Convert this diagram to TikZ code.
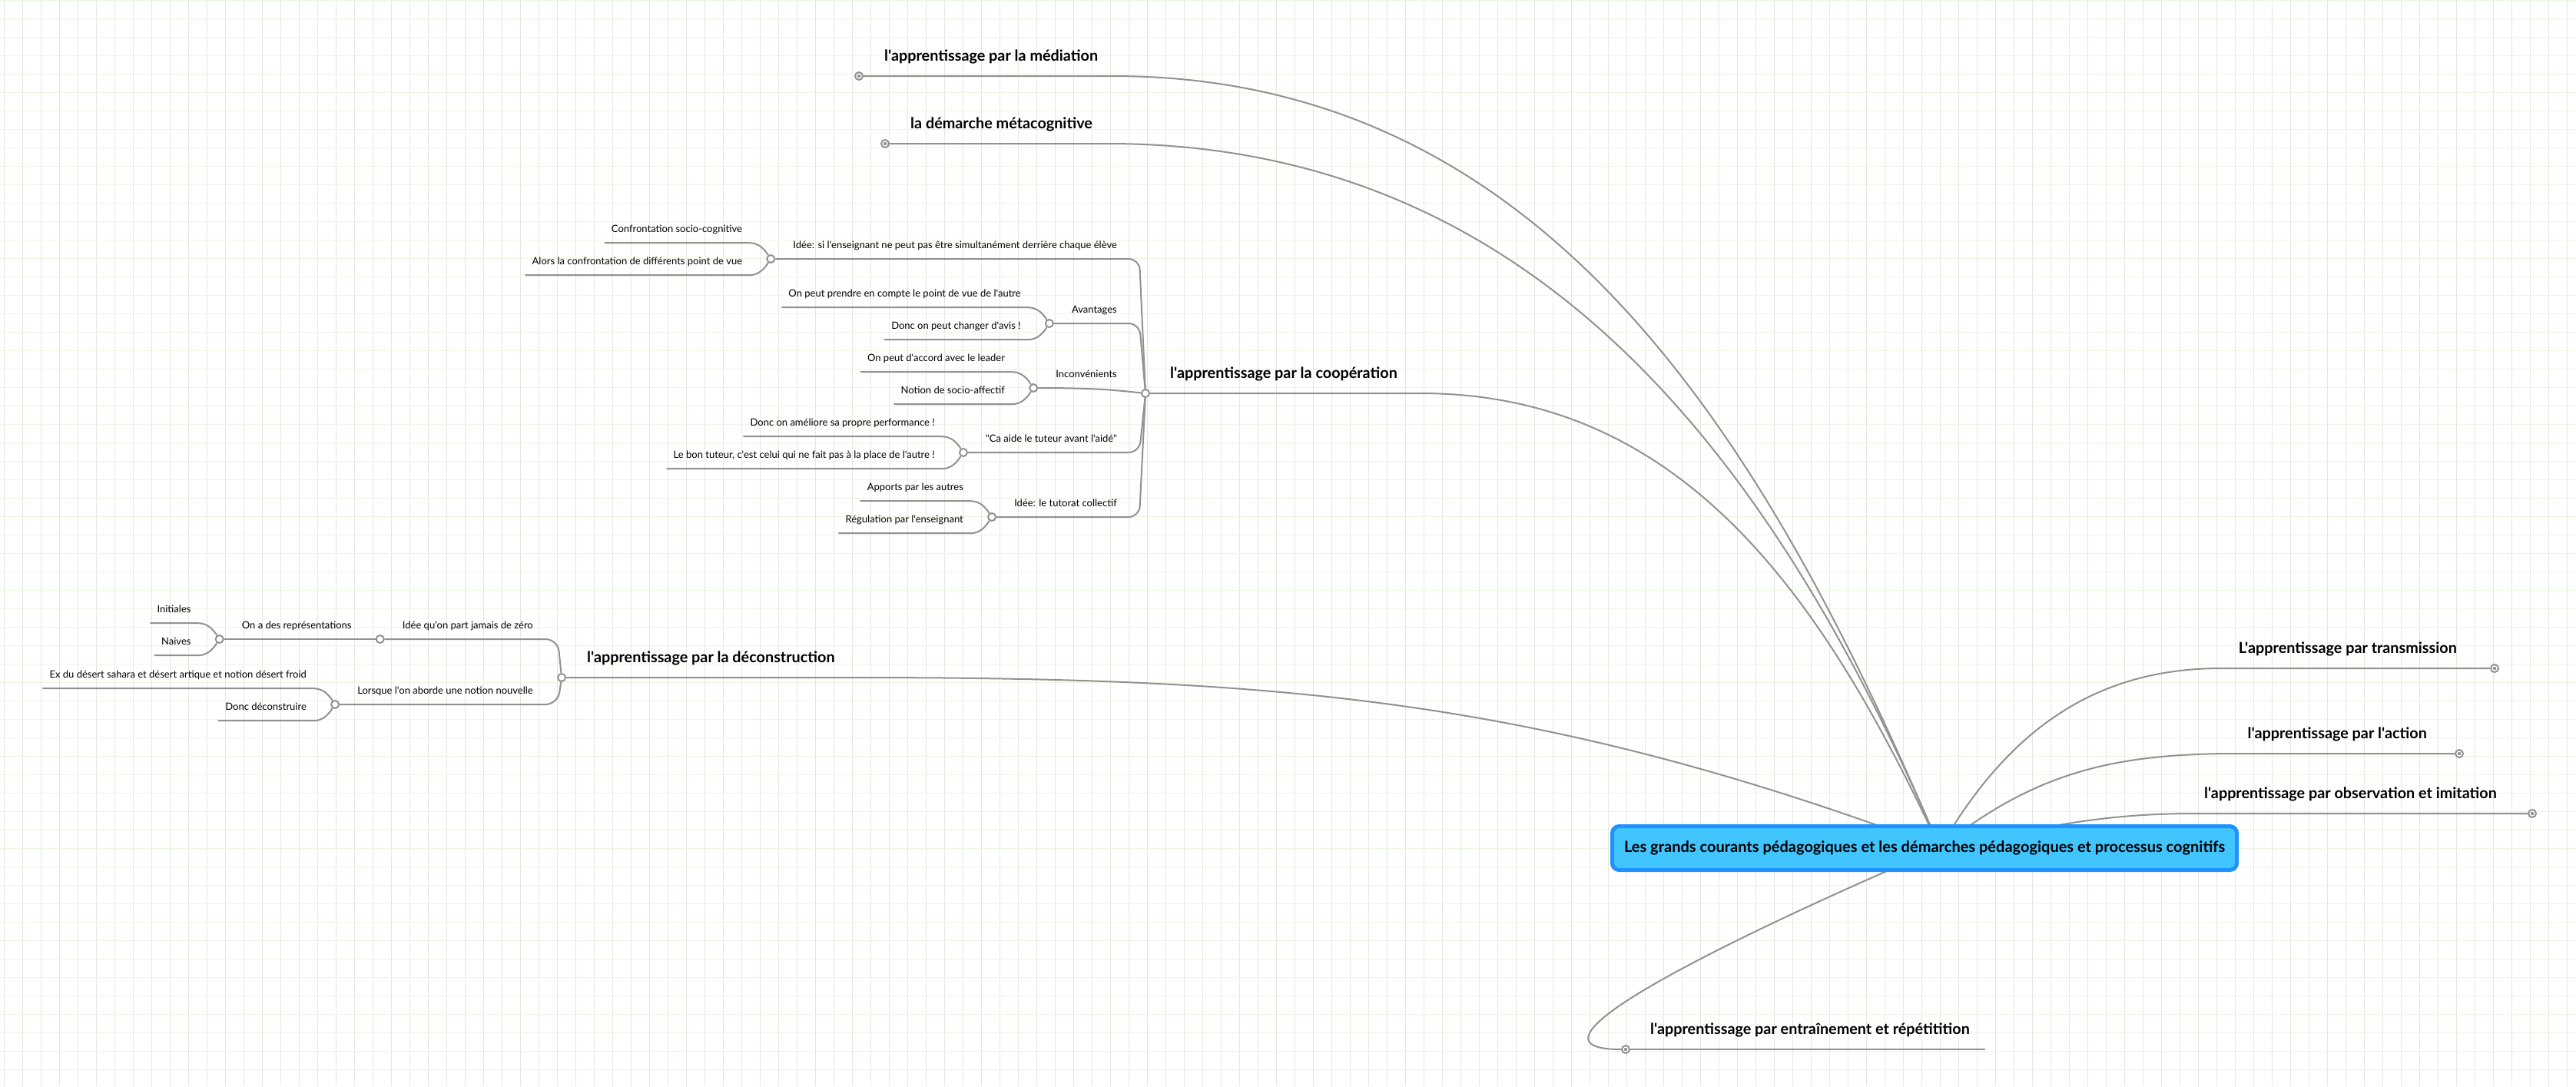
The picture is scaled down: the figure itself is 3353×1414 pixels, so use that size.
\documentclass[tikz,border=0pt]{standalone}
\usepackage{fontspec}
\newfontfamily\mapfont{Lato}
\usetikzlibrary{calc}
\definecolor{gridv}{RGB}{228,233,220}
\definecolor{gridh}{RGB}{236,245,226}
\definecolor{branch}{RGB}{145,145,145}
\definecolor{rootedge}{RGB}{33,145,255}
\definecolor{rootfill}{RGB}{64,197,255}
\pgfdeclarelayer{grid}
\pgfdeclarelayer{links}
\pgfsetlayers{grid,links,main}
\tikzset{
  link/.style={draw=branch,line width=2pt},
  knot/.style={circle,draw=branch,line width=2pt,fill=white,minimum size=10pt,inner sep=0pt},
  endknot/.style={knot,path picture={\fill[branch] (path picture bounding box.center) circle (2.2pt);}},
  topic/.style={font=\mapfont\bfseries\fontsize{19.8}{22}\selectfont,inner sep=0pt},
  subtopic/.style={font=\mapfont\fontsize{13}{15}\selectfont,inner sep=0pt,anchor=base east},
  leaf/.style={subtopic,inner xsep=9pt,text depth=14pt},
  leafup/.style={to path={.. controls ($(\tikztostart)+(13,0)$) and ($(\tikztotarget)+(-8,-12)$) .. (\tikztotarget)}},
  leafdown/.style={to path={.. controls ($(\tikztostart)+(13,0)$) and ($(\tikztotarget)+(-8,12)$) .. (\tikztotarget)}},
}
\begin{document}
\begin{tikzpicture}[x=1pt,y=-1pt]
  \useasboundingbox (0,0) rectangle (3353,1414);
  % Grid paper
  \begin{pgfonlayer}{grid}
    \fill[white] (0,0) rectangle (3353,1414);
    \foreach \gx in {5,29,...,3353} \draw[gridv,line width=1pt] (\gx,0) -- (\gx,1414);
    \foreach \gy in {0.5,24.5,...,1414} \draw[gridh,line width=1pt] (0,\gy) -- (3353,\gy);
  \end{pgfonlayer}
  % Central topic
  \node[draw=rootedge,fill=rootfill,line width=5pt,rounded corners=9pt,
        minimum width=813pt,minimum height=57pt,
        font=\mapfont\bfseries\fontsize{20}{22}\selectfont] (root) at (2505,1104)
        {Les grands courants pédagogiques et les démarches pédagogiques et processus cognitifs};
  \coordinate (hub) at ([xshift=20pt]root.center);
  % Main topics, left side
  \node[endknot] (med) at (1118,99) {};
  \node[topic,anchor=base west] (medl) at (1151,79) {l'apprentissage par la médiation};
  \node[endknot] (meta) at (1152,187) {};
  \node[topic,anchor=base west] (metal) at (1185,167) {la démarche métacognitive};
  \node[knot] (coop) at (1491,512) {};
  \node[topic,anchor=base west] (coopl) at (1523,492) {l'apprentissage par la coopération};
  \node[knot] (decon) at (731,882) {};
  \node[topic,anchor=base west] (deconl) at (764,862) {l'apprentissage par la déconstruction};
  \node[endknot] (entr) at (2116,1366) {};
  \node[topic,anchor=base west] (entrl) at (2148,1346) {l'apprentissage par entraînement et répétitition};
  % Main topics, right side
  \node[endknot] (trans) at (3247,870) {};
  \node[topic,anchor=base east] (transl) at (3198,850) {L'apprentissage par transmission};
  \node[endknot] (act) at (3201,981) {};
  \node[topic,anchor=base east] (actl) at (3159,961) {l'apprentissage par l'action};
  \node[endknot] (obs) at (3296,1059) {};
  \node[topic,anchor=base east] (obsl) at (3250,1039) {l'apprentissage par observation et imitation};
  % Where the branches turn flat
  \coordinate (medk) at ($(medl.east |- med)+(19,0)$);
  \coordinate (metak) at ($(metal.east |- meta)+(20,0)$);
  \coordinate (coopk) at ($(coopl.east |- coop)+(30,0)$);
  \coordinate (deconk) at ($(deconl.east |- decon)+(20,0)$);
  \coordinate (entrk) at ($(entrl.east |- entr)+(20,0)$);
  \coordinate (transk) at ($(transl.west |- trans)+(-23,0)$);
  \coordinate (actk) at ($(actl.west |- act)+(-15,0)$);
  \coordinate (obsk) at ($(obsl.west |- obs)+(-11,0)$);
  % Branches from the central topic
  \begin{pgfonlayer}{links}
    \draw[link] (hub) .. controls ($(hub)+(-223,-525)$) and ($(medk)+(570,0)$) .. (medk) -- (med);
    \draw[link] (hub) .. controls ($(hub)+(-217,-511)$) and ($(metak)+(555,0)$) .. (metak) -- (meta);
    \draw[link] (hub) .. controls ($(hub)+(-150,-322)$) and ($(coopk)+(345,0)$) .. (coopk) -- (coop);
    \draw[link] (hub) .. controls ($(hub)+(-521,-195)$) and ($(deconk)+(562,0)$) .. (deconk) -- (decon);
    \draw[link] (hub) .. controls ($(hub)+(-169,72)$) and ($(entr)+(-184,0)$) .. (entr);
    \draw[link] (entr) -- (entrk);
    \draw[link] (hub) .. controls ($(hub)+(85,-147)$) and ($(transk)+(-170,0)$) .. (transk) -- (trans);
    \draw[link] (hub) .. controls ($(hub)+(123,-99)$) and ($(actk)+(-158,0)$) .. (actk) -- (act);
    \draw[link] (hub) .. controls ($(hub)+(130,-25)$) and ($(obsk)+(-132,0)$) .. (obsk) -- (obs);
  \end{pgfonlayer}
  % Cooperation
  \coordinate (cooptrunk) at ([xshift=-8pt]coop.center);
  \node[subtopic] (idee) at ($(coop)+(-37,-189)$) {Idée: si l'enseignant ne peut pas être simultanément derrière chaque élève};
  \node[knot] (ideek) at ($(idee.base west)+(-29,14)$) {};
  \node[subtopic] (avant) at ($(coop)+(-37,-105)$) {Avantages};
  \node[knot] (avantk) at ($(avant.base west)+(-29,14)$) {};
  \node[subtopic] (incon) at ($(coop)+(-37,-21)$) {Inconvénients};
  \node[knot] (inconk) at ($(incon.base west)+(-29,14)$) {};
  \node[subtopic] (aide) at ($(coop)+(-37,63)$) {"Ca aide le tuteur avant l'aidé"};
  \node[knot] (aidek) at ($(aide.base west)+(-29,14)$) {};
  \node[subtopic] (tutorat) at ($(coop)+(-37,147)$) {Idée: le tutorat collectif};
  \node[knot] (tutoratk) at ($(tutorat.base west)+(-29,14)$) {};
  \draw[link,rounded corners=14pt] (ideek) -- (ideek -| cooptrunk) -- (coop);
  \draw[link,rounded corners=14pt] (avantk) -- (avantk -| cooptrunk) -- (coop);
  \draw[link] (inconk) .. controls ($(inconk)+(90,0)$) and ($(coop)+(-30,-3)$) .. (coop);
  \draw[link,rounded corners=14pt] (aidek) -- (aidek -| cooptrunk) -- (coop);
  \draw[link,rounded corners=14pt] (tutoratk) -- (tutoratk -| cooptrunk) -- (coop);
  % Cooperation, details
  \node[leaf] (confr) at ($(ideek)+(-28,-35)$) {Confrontation socio-cognitive};
  \node[leaf] (alors) at ($(ideek)+(-28,7)$) {Alors la confrontation de différents point de vue};
  \node[leaf] (compte) at ($(avantk)+(-28,-35)$) {On peut prendre en compte le point de vue de l'autre};
  \node[leaf] (avis) at ($(avantk)+(-28,7)$) {Donc on peut changer d'avis !};
  \node[leaf] (leader) at ($(inconk)+(-28,-35)$) {On peut d'accord avec le leader};
  \node[leaf] (affectif) at ($(inconk)+(-28,7)$) {Notion de socio-affectif};
  \node[leaf] (perf) at ($(aidek)+(-28,-35)$) {Donc on améliore sa propre performance !};
  \node[leaf] (tuteur) at ($(aidek)+(-28,7)$) {Le bon tuteur, c'est celui qui ne fait pas à la place de l'autre !};
  \node[leaf] (apports) at ($(tutoratk)+(-28,-35)$) {Apports par les autres};
  \node[leaf] (regul) at ($(tutoratk)+(-28,7)$) {Régulation par l'enseignant};
  \draw[link] (confr.south west) -- (confr.south east) to[leafup] (ideek);
  \draw[link] (alors.south west) -- (alors.south east) to[leafdown] (ideek);
  \draw[link] (compte.south west) -- (compte.south east) to[leafup] (avantk);
  \draw[link] (avis.south west) -- (avis.south east) to[leafdown] (avantk);
  \draw[link] (leader.south west) -- (leader.south east) to[leafup] (inconk);
  \draw[link] (affectif.south west) -- (affectif.south east) to[leafdown] (inconk);
  \draw[link] (perf.south west) -- (perf.south east) to[leafup] (aidek);
  \draw[link] (tuteur.south west) -- (tuteur.south east) to[leafdown] (aidek);
  \draw[link] (apports.south west) -- (apports.south east) to[leafup] (tutoratk);
  \draw[link] (regul.south west) -- (regul.south east) to[leafdown] (tutoratk);
  % Deconstruction
  \coordinate (decontrunk) at ([xshift=-5pt]decon.center);
  \node[subtopic] (zero) at ($(decon)+(-37,-64)$) {Idée qu'on part jamais de zéro};
  \node[knot] (zerok) at ($(zero.base west)+(-29,14)$) {};
  \node[subtopic] (repres) at ($(zerok)+(-37,-14)$) {On a des représentations};
  \node[knot] (represk) at ($(repres.base west)+(-29,14)$) {};
  \node[subtopic] (lorsque) at ($(decon)+(-37,21)$) {Lorsque l'on aborde une notion nouvelle};
  \node[knot] (lorsquek) at ($(lorsque.base west)+(-29,14)$) {};
  \draw[link,rounded corners=16pt] (zerok) -- (zerok -| decontrunk) -- (decon);
  \draw[link,rounded corners=16pt] (lorsquek) -- (lorsquek -| decontrunk) -- (decon);
  \draw[link] (represk) -- (zerok);
  % Deconstruction, details
  \node[leaf] (init) at ($(represk)+(-28,-35)$) {Initiales};
  \node[leaf] (naives) at ($(represk)+(-28,7)$) {Naives};
  \node[leaf] (desert) at ($(lorsquek)+(-28,-35)$) {Ex du désert sahara et désert artique et notion désert froid};
  \node[leaf] (deconstr) at ($(lorsquek)+(-28,7)$) {Donc déconstruire};
  \draw[link] (init.south west) -- (init.south east) to[leafup] (represk);
  \draw[link] (naives.south west) -- (naives.south east) to[leafdown] (represk);
  \draw[link] (desert.south west) -- (desert.south east) to[leafup] (lorsquek);
  \draw[link] (deconstr.south west) -- (deconstr.south east) to[leafdown] (lorsquek);
\end{tikzpicture}
\end{document}
